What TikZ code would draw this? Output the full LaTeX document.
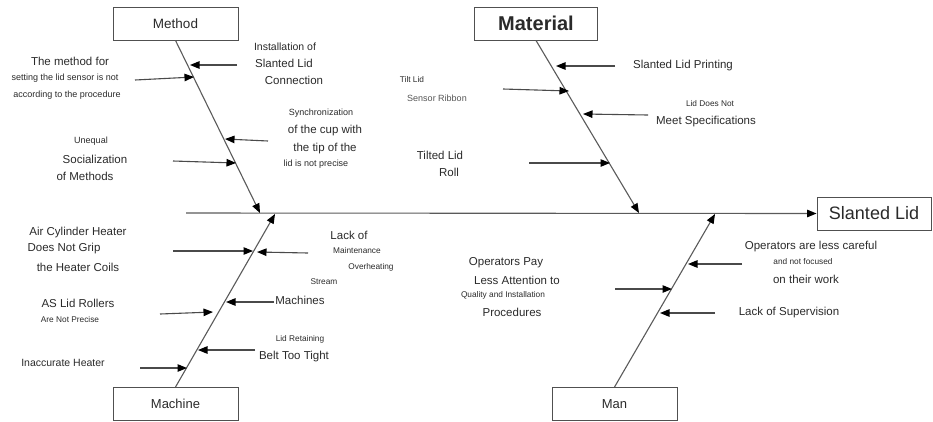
\documentclass[tikz,border=0pt]{standalone}
\usepackage{fontspec}
\setmainfont{Liberation Sans}
\usetikzlibrary{arrows.meta}
\definecolor{txt}{HTML}{2A2A2A}
\definecolor{boxc}{HTML}{505050}
\definecolor{bonec}{HTML}{5A5A5A}
\definecolor{arrc}{HTML}{4A4A4A}
\definecolor{lgt}{HTML}{555555}
\begin{document}
\begin{tikzpicture}[x=1pt,y=-1pt,
  box/.style={draw=boxc,line width=0.9pt,minimum height=33pt,inner sep=0pt,text=txt},
  bone/.style={draw=bonec,line width=1.1pt,-{Triangle[length=9.5pt,width=7.5pt,color=black]}},
  sub/.style={draw=arrc,line width=1.1pt,-{Triangle[length=9.5pt,width=7.5pt,color=black]}},
  tm/.style={inner sep=0pt,text=txt,font=\fontsize{11.5}{13}\selectfont},
  tn/.style={inner sep=0pt,text=txt,font=\fontsize{10.5}{12}\selectfont},
  ts/.style={inner sep=0pt,text=txt,font=\fontsize{9}{10}\selectfont},
  tx/.style={inner sep=0pt,text=txt,font=\fontsize{8.3}{9}\selectfont},
]
\useasboundingbox (0,0) rectangle (933,421);

% boxes
\node[box,minimum width=125pt,font=\fontsize{13.5}{15}\selectfont] (method) at (175.5,23.5) {Method};
\node[box,minimum width=123pt,font=\fontsize{20}{22}\selectfont\bfseries] (material) at (536,23.5) {Material};
\node[box,minimum width=125pt,font=\fontsize{13}{15}\selectfont] (machine) at (175.5,404) {Machine};
\node[box,minimum width=125pt,font=\fontsize{13}{15}\selectfont] (man) at (614.5,404) {Man};
\node[box,minimum width=114pt,font=\fontsize{18}{20}\selectfont] (slid) at (874,213.5) {Slanted Lid};

% main line and bones
\coordinate (ms) at (186,213);
\coordinate (mt) at (260,213);
\coordinate (mat) at (639,213);
\coordinate (mat2) at (275,214);
\coordinate (mant) at (715,214);
\draw[bone] (ms) -- (slid.west);
\draw[bone] (method.south) -- (mt);
\draw[bone] (material.south) -- (mat);
\draw[bone] (machine.north) -- (mat2);
\draw[bone] (man.north) -- (mant);

% Method causes
\node[tn] (t1) at (285,47) {Installation of};
\node[tm] (t2) at (284,63) {Slanted Lid};
\node[tm] (t3) at (294,80) {Connection};
\node[tm] (t4) at (70,61) {The method for};
\node[ts] (t5) at (65,78) {setting the lid sensor is not};
\node[ts] (t6) at (67,95) {according to the procedure};
\node[ts] (t7) at (321,113) {Synchronization};
\node[tm] (t8) at (325,131) {of the cup with};
\node[tm] (t9) at (325,149) {the tip of the};
\node[ts] (t10) at (316,164) {lid is not precise};
\node[ts] (t11) at (91,141) {Unequal};
\node[tm] (t12) at (95,159) {Socialization};
\node[tm] (t13) at (85,176) {of Methods};

\coordinate (a1s) at (237,65); \coordinate (a1e) at (190,65);
\coordinate (a2s) at (135,80); \coordinate (a2e) at (194,77);
\coordinate (a3s) at (268,141); \coordinate (a3e) at (225,139);
\coordinate (a4s) at (173,161); \coordinate (a4e) at (236,163);
\draw[sub] (a1s) -- (a1e);
\draw[sub] (a2s) -- (a2e);
\draw[sub] (a3s) -- (a3e);
\draw[sub] (a4s) -- (a4e);

% Material causes
\node[tm] (t14) at (683,66) {Slanted Lid Printing};
\node[tx] (t15) at (412,80) {Tilt Lid};
\node[ts,text=lgt] (t16) at (437,98) {Sensor Ribbon};
\node[tx] (t17) at (710,104) {Lid Does Not};
\node[tm] (t18) at (706,122) {Meet Specifications};
\node[tm] (t19) at (440,155) {Tilted Lid};
\node[tm] (t20) at (449,172) {Roll};

\coordinate (b1s) at (615,66); \coordinate (b1e) at (556,66);
\coordinate (b2s) at (503,89); \coordinate (b2e) at (569,91);
\coordinate (b3s) at (648,115); \coordinate (b3e) at (583,114);
\coordinate (b4s) at (529,163); \coordinate (b4e) at (610,163);
\draw[sub] (b1s) -- (b1e);
\draw[sub] (b2s) -- (b2e);
\draw[sub] (b3s) -- (b3e);
\draw[sub] (b4s) -- (b4e);

% Machine causes
\node[tm] (t21) at (78,233) {Air Cylinder Heater};
\node[tm] (t22) at (64,249) {Does Not Grip};
\node[tm] (t23) at (78,267) {the Heater Coils};
\node[tm] (t24) at (349,235) {Lack of};
\node[tx] (t25) at (357,251) {Maintenance};
\node[tx] (t26) at (371,267) {Overheating};
\node[tx] (t27) at (324,282) {Stream};
\node[tm] (t28) at (300,300) {Machines};
\node[tm] (t29) at (78,303) {AS Lid Rollers};
\node[tx] (t30) at (70,320) {Are Not Precise};
\node[tx] (t31) at (300,339) {Lid Retaining};
\node[tm] (t32) at (294,357) {Belt Too Tight};
\node[tn] (t33) at (63,363) {Inaccurate Heater};

\coordinate (c1s) at (173,251); \coordinate (c1e) at (253,251);
\coordinate (c2s) at (308,253); \coordinate (c2e) at (257,252);
\coordinate (c3s) at (274,302); \coordinate (c3e) at (226,302);
\coordinate (c4s) at (160,314); \coordinate (c4e) at (213,312);
\coordinate (c5s) at (255,350); \coordinate (c5e) at (198,350);
\coordinate (c6s) at (140,368); \coordinate (c6e) at (187,368);
\draw[sub] (c1s) -- (c1e);
\draw[sub] (c2s) -- (c2e);
\draw[sub] (c3s) -- (c3e);
\draw[sub] (c4s) -- (c4e);
\draw[sub] (c5s) -- (c5e);
\draw[sub] (c6s) -- (c6e);

% Man causes
\node[tm] (t34) at (811,247) {Operators are less careful};
\node[tx] (t35) at (803,262) {and not focused};
\node[tm] (t36) at (806,279) {on their work};
\node[tm] (t37) at (506,263) {Operators Pay};
\node[tm] (t38) at (517,280) {Less Attention to};
\node[tx] (t39) at (503,295) {Quality and Installation};
\node[tm] (t40) at (512,312) {Procedures};
\node[tm] (t41) at (789,313) {Lack of Supervision};

\coordinate (d1s) at (742,264); \coordinate (d1e) at (688,264);
\coordinate (d2s) at (615,289); \coordinate (d2e) at (672,289);
\coordinate (d3s) at (715,313); \coordinate (d3e) at (660,313);
\draw[sub] (d1s) -- (d1e);
\draw[sub] (d2s) -- (d2e);
\draw[sub] (d3s) -- (d3e);
\end{tikzpicture}
\end{document}
